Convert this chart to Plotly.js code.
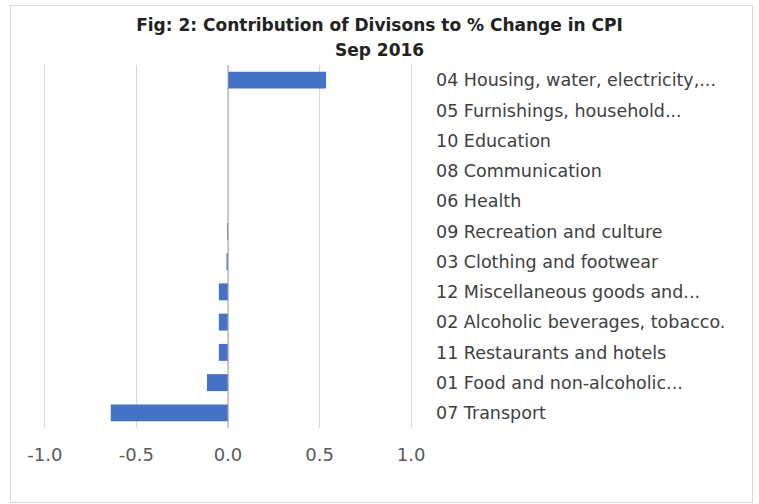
<!DOCTYPE html>
<html>
<head>
<meta charset="utf-8">
<script src="https://cdn.plot.ly/plotly-3.0.1.min.js"></script>
<style>
html,body{margin:0;padding:0;background:#fff;}
#wrap{position:relative;width:759px;height:504px;}
#chart{width:759px;height:504px;}
#frame{position:absolute;left:10px;top:5px;width:741px;height:496px;border:1px solid #d9d9d9;pointer-events:none;}
</style>
</head>
<body>
<div id="wrap"><div id="chart"></div><div id="frame"></div></div>
<script>
const categories = [
  "04 Housing, water, electricity,...",
  "05 Furnishings, household...",
  "10 Education",
  "08 Communication",
  "06 Health",
  "09 Recreation and culture",
  "03 Clothing and footwear",
  "12 Miscellaneous goods and...",
  "02 Alcoholic beverages, tobacco.",
  "11 Restaurants and hotels",
  "01 Food and non-alcoholic...",
  "07 Transport"
];
const values = [0.535, 0.0, 0.0, 0.0, 0.0, -0.005, -0.008, -0.05, -0.05, -0.05, -0.115, -0.64];
const xTicks = [-1.0, -0.5, 0.0, 0.5, 1.0];
const xTickText = ["-1.0", "-0.5", "0.0", "0.5", "1.0"];
const titleLine1 = 'Fig: 2: Contribution of Divisons to % Change in CPI';
const titleLine2 = 'Sep 2016';

const trace = {
  type: 'bar',
  orientation: 'h',
  x: values,
  y: categories,
  marker: {color: '#4472C4'},
  hoverinfo: 'x+y'
};

const titleFont = {family: '"DejaVu Sans", sans-serif', size: 17, color: '#222222', weight: 'bold'};

const layout = {
  width: 759,
  height: 504,
  margin: {l: 43, r: 346, t: 65, b: 76},
  paper_bgcolor: '#ffffff',
  plot_bgcolor: '#ffffff',
  bargap: 0.44,
  showlegend: false,
  font: {family: '"DejaVu Sans", sans-serif', color: '#404040'},
  title: {
    text: titleLine1,
    x: 0.5, xanchor: 'center', xref: 'container',
    y: 1 - 25 / 504, yanchor: 'middle', yref: 'container',
    font: titleFont
  },
  annotations: [{
    text: titleLine2,
    xref: 'paper', yref: 'paper',
    x: (379.5 - 43) / 370, y: 1 + (65 - 50) / 363,
    xanchor: 'center', yanchor: 'middle',
    showarrow: false,
    font: titleFont
  }],
  xaxis: {
    range: [-1.01, 1.01],
    tickvals: xTicks,
    ticktext: xTickText,
    showgrid: true,
    gridcolor: '#d9d9d9',
    gridwidth: 1,
    zeroline: false,
    showline: false,
    ticks: '',
    ticklabelstandoff: 14,
    tickfont: {size: 18, color: '#595959'},
    fixedrange: true
  },
  yaxis: {
    type: 'category',
    autorange: 'reversed',
    side: 'right',
    ticks: '',
    ticklabelstandoff: 22,
    showgrid: false,
    showline: false,
    zeroline: false,
    tickfont: {size: 17.5, color: '#404040'},
    fixedrange: true
  },
  shapes: [{
    type: 'line', xref: 'x', yref: 'paper',
    x0: 0, x1: 0, y0: 0, y1: 1,
    line: {color: '#a6a6a6', width: 1}
  }]
};

Plotly.newPlot('chart', [trace], layout, {displayModeBar: false, staticPlot: true});
</script>
</body>
</html>
